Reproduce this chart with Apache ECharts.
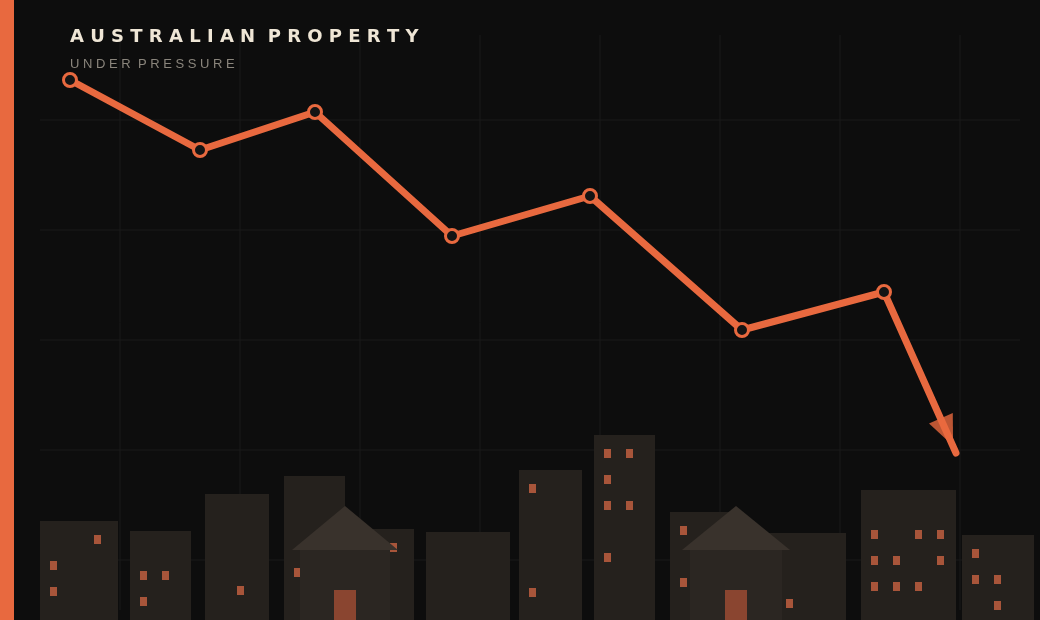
<!DOCTYPE html>
<html><head><meta charset="utf-8">
<style>html,body{margin:0;padding:0;background:#0d0d0d;}#c{width:1040px;height:620px;}</style>
<script src="https://cdn.jsdelivr.net/npm/echarts@6/dist/echarts.min.js"></script>
</head><body><div id="c"></div>
<script>
// Price line: x positions (px-like scale) and index values
const pointX = [70, 200, 315, 452, 590, 742, 884, 956];
const pointY = [530, 460, 498, 374, 414, 280, 318, 157];
// background grid
const gridX = [120, 240, 360, 480, 600, 720, 840, 960];
const gridY = [490, 380, 270, 160, 50];
// buildings: [x0, x1, topValue]
const buildings = [[40,118,89],[130,191,79],[205,269,116],[284,345,134],[345,414,81],[426,510,78],[519,582,140],[594,655,175],[670,740,98],[740,846,77],[861,956,120],[962,1034,75]];
// windows: [x, y]
const windows = [[50,49],[50,23],[94,75],[140,39],[162,39],[140,13],[237,24],[294,42],[390,67],[529,126],[529,22],[604,161],[626,161],[604,135],[604,109],[626,109],[604,57],[680,84],[680,32],[786,11],[871,80],[915,80],[937,80],[871,54],[893,54],[937,54],[871,28],[893,28],[915,28],[972,61],[972,35],[994,35],[994,9]];
// houses: [centerX, halfWidth]
const houses = [[345,53],[736,54]];

const chart = echarts.init(document.getElementById('c'));
const OR = '#e8693f';
chart.setOption({
  backgroundColor: '#0d0d0d',
  animation: false,
  grid: {left: 0, right: 20, top: 10, bottom: 0},
  xAxis: {type: 'value', min: 0, max: 1020, show: false},
  yAxis: {type: 'value', min: -10, max: 600, show: false},
  graphic: [
    {type: 'rect', shape: {x: 0, y: 0, width: 14, height: 620}, style: {fill: OR}, z: 100},
    {type: 'text', left: 70, top: 28, style: {text: 'A U S T R A L I A N  P R O P E R T Y', font: 'bold 18px "DejaVu Sans"', fill: '#efe6d6'}, z: 100},
    {type: 'text', left: 70, top: 58, style: {text: 'U N D E R  P R E S S U R E', font: '13px "Liberation Sans"', fill: '#8a857c'}, z: 100}
  ],
  series: [
    {type: 'custom', silent: true, z: 1, clip: false,
      data: gridX.map(v => [v, 0]).concat(gridY.map(v => [v, 1])),
      renderItem: (p, api) => {
        const v = api.value(0), t = api.value(1);
        let a, b;
        if (t === 0) { a = api.coord([v, 575]); b = api.coord([v, 0]); }
        else { a = api.coord([40, v]); b = api.coord([1020, v]); }
        return {type: 'line', shape: {x1: a[0], y1: a[1], x2: b[0], y2: b[1]}, style: {stroke: '#1b1b1b', lineWidth: 1}};
      }},
    {type: 'custom', silent: true, z: 2, clip: false, data: buildings,
      renderItem: (p, api) => {
        const a = api.coord([api.value(0), api.value(2)]), b = api.coord([api.value(1), -10]);
        return {type: 'rect', shape: {x: a[0], y: a[1], width: b[0]-a[0], height: b[1]-a[1]}, style: {fill: '#25211d'}};
      }},
    {type: 'custom', silent: true, z: 3, clip: false, data: windows,
      renderItem: (p, api) => {
        const a = api.coord([api.value(0), api.value(1)]);
        return {type: 'rect', shape: {x: a[0], y: a[1], width: 7, height: 9}, style: {fill: '#a8553a'}};
      }},
    {type: 'custom', silent: true, z: 4, clip: false, data: houses,
      renderItem: (p, api) => {
        const cx = api.value(0), hw = api.value(1);
        const apex = api.coord([cx, 104]), l = api.coord([cx-hw, 60]), r = api.coord([cx+hw, 60]);
        const bl = api.coord([cx-hw+8, 60]), br = api.coord([cx+hw-8, -10]);
        const dl = api.coord([cx-11, 20]), dr = api.coord([cx+11, -10]);
        return {type: 'group', children: [
          {type: 'rect', shape: {x: bl[0], y: bl[1], width: br[0]-bl[0], height: br[1]-bl[1]}, style: {fill: '#2b2622'}},
          {type: 'polygon', shape: {points: [apex, l, r]}, style: {fill: '#39322c'}},
          {type: 'rect', shape: {x: dl[0], y: dl[1], width: dr[0]-dl[0], height: dr[1]-dl[1]}, style: {fill: '#8a4530'}}
        ]};
      }},
    {type: 'line', z: 10, data: pointX.map((x, i) => ({value: [x, pointY[i]], symbol: i === pointX.length-1 ? 'none' : 'circle'})),
      symbolSize: 13, lineStyle: {color: OR, width: 7, cap: 'round', join: 'round'},
      itemStyle: {color: '#141414', borderColor: OR, borderWidth: 3}},
    {type: 'scatter', z: 11, data: [[947, 178]], symbol: 'triangle', symbolSize: [26, 30], symbolRotate: 204,
      itemStyle: {color: OR}}
  ]
});
</script></body></html>
